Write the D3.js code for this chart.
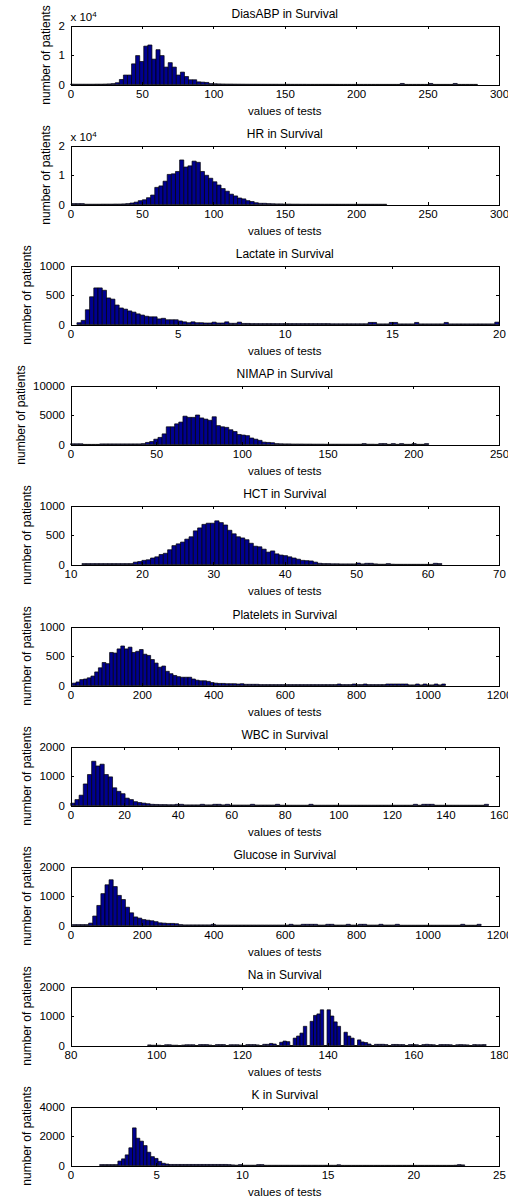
<!DOCTYPE html>
<html>
<head>
<meta charset="utf-8">
<script src="https://cdn.jsdelivr.net/npm/d3@7"></script>
<style>
  body { margin: 0; background: #fff; }
  svg { display: block; font-family: "Liberation Sans", Arial, Helvetica, sans-serif; }
  .axis path, .axis line { stroke: #000; shape-rendering: crispEdges; }
  .axis text { font-size: 11.5px; fill: #000; }
</style>
</head>
<body>
<script>
// one histogram per lab test, "in Survival" group
var panelNames = ["DiasABP", "HR", "Lactate", "NIMAP", "HCT", "Platelets", "WBC", "Glucose", "Na", "K"];
var binStarts = [0, 1, 0.3, 0, 11.6, 5, 0.1, 5, 98, 1.7];
var binWidths = [2.85, 2.9, 0.197, 2.43, 0.6, 10.45, 1.56, 11.45, 0.79, 0.213];
var xDomains = [[0, 300], [0, 300], [0, 20], [0, 250], [10, 70], [0, 1200], [0, 160], [0, 1200], [80, 180], [0, 25]];
var xSteps = [50, 50, 5, 50, 10, 200, 20, 200, 20, 5];
var yMaxes = [20000, 20000, 1000, 10000, 1000, 1000, 2000, 2000, 2000, 4000];
var yExponents = [4, 4, 0, 0, 0, 0, 0, 0, 0, 0];

var diasabpCounts = [
  120, 100, 100, 100, 100, 100, 120, 120, 150, 200,
  300, 600, 1700, 3200, 3200, 7000, 9800, 7800, 13000, 13400,
  8600, 11800, 9800, 5900, 7400, 5900, 3200, 4200, 2700, 1600,
  1600, 900, 800, 700, 300, 250, 200, 180, 150, 150,
  130, 120, 110, 100, 100, 100, 90, 90, 80, 80,
  80, 70, 70, 70, 60, 60, 60, 60, 50, 50,
  50, 50, 50, 50, 50, 40, 40, 40, 40, 40,
  40, 40, 40, 40, 40, 40, 40, 40, 40, 40,
  40, 350, 40, 40, 40, 40, 40, 40, 350, 40,
  40, 40, 40, 40, 350, 40, 40, 40, 40, 40
];
var hrCounts = [
  300, 300, 300, 100, 100, 100, 100, 120, 120, 120,
  150, 150, 200, 300, 500, 800, 1300, 1600, 2300, 3200,
  5800, 6300, 7900, 10200, 10400, 11200, 15100, 12700, 13100, 14700,
  14300, 11200, 9900, 8900, 7700, 6600, 5400, 4500, 3500, 2900,
  2200, 1900, 1300, 1000, 600, 400, 400, 300, 250, 200,
  200, 150, 150, 120, 120, 100, 100, 100, 100, 100,
  90, 90, 90, 80, 80, 80, 80, 80, 80, 80,
  80, 80, 80, 80, 80, 80
];
var lactateCounts = [
  30, 70, 250, 470, 620, 620, 580, 450, 430, 330,
  280, 260, 230, 210, 180, 160, 140, 130, 130, 95,
  105, 80, 80, 80, 60, 45, 30, 45, 30, 30,
  25, 25, 40, 25, 25, 45, 20, 20, 40, 18,
  18, 15, 15, 15, 15, 15, 15, 15, 15, 15,
  15, 15, 15, 15, 15, 15, 15, 15, 15, 15,
  12, 12, 12, 12, 12, 12, 12, 12, 12, 35,
  35, 10, 10, 10, 35, 35, 10, 10, 10, 10,
  35, 10, 10, 10, 10, 10, 10, 35, 10, 10,
  10, 10, 10, 10, 10, 10, 10, 10, 10, 40
];
var nimapCounts = [
  120, 120, 120, 20, 20, 20, 20, 100, 100, 100,
  100, 100, 100, 100, 100, 100, 100, 150, 350, 500,
  900, 1200, 1800, 3000, 3000, 3500, 3800, 4800, 4600, 4600,
  5000, 4500, 4300, 4100, 4700, 3200, 3000, 2900, 2500, 2200,
  1700, 1600, 1500, 1100, 900, 700, 400, 350, 300, 150,
  120, 100, 100, 80, 80, 80, 70, 70, 60, 60,
  60, 50, 50, 50, 50, 50, 50, 50, 50, 50,
  150, 50, 50, 30, 150, 150, 30, 150, 30, 150,
  30, 30, 150, 30, 30, 150
];
var hctCounts = [
  15, 15, 15, 15, 15, 15, 15, 15, 15, 15,
  15, 15, 40, 50, 70, 80, 110, 130, 170, 190,
  250, 320, 350, 380, 430, 470, 570, 620, 680, 700,
  700, 740, 710, 670, 580, 520, 470, 450, 420, 360,
  310, 300, 260, 210, 230, 180, 160, 150, 130, 110,
  90, 70, 65, 60, 40, 20, 15, 15, 12, 12,
  10, 10, 10, 10, 25, 10, 20, 20, 10, 5,
  5, 15, 5, 3, 3, 3, 3, 3, 3, 3,
  3, 3, 20, 15
];
var plateletsCounts = [
  40, 60, 100, 110, 130, 160, 230, 300, 390, 370,
  560, 550, 620, 670, 620, 650, 560, 580, 610, 530,
  510, 440, 380, 310, 330, 240, 200, 170, 150, 140,
  140, 140, 110, 90, 80, 80, 70, 50, 40, 35,
  35, 30, 30, 30, 25, 30, 20, 20, 20, 20,
  15, 15, 15, 15, 15, 15, 15, 15, 15, 15,
  15, 15, 15, 15, 15, 15, 15, 15, 15, 15,
  15, 25, 15, 15, 15, 25, 15, 15, 25, 15,
  15, 15, 15, 15, 25, 25, 25, 25, 25, 25,
  10, 10, 25, 10, 25, 10, 10, 25, 10, 25
];
var wbcCounts = [
  80, 200, 350, 730, 1050, 1500, 1340, 1400, 1050, 970,
  600, 480, 400, 250, 200, 130, 100, 80, 60, 40,
  35, 30, 30, 25, 25, 40, 40, 20, 20, 20,
  20, 40, 20, 20, 40, 40, 20, 40, 15, 15,
  15, 15, 15, 40, 15, 15, 15, 15, 15, 40,
  10, 10, 10, 10, 10, 10, 10, 40, 10, 10,
  10, 10, 10, 10, 10, 10, 10, 10, 10, 10,
  10, 10, 10, 10, 10, 10, 10, 10, 10, 10,
  10, 10, 40, 10, 40, 40, 40, 10, 10, 10,
  10, 10, 10, 10, 10, 10, 10, 10, 10, 40
];
var glucoseCounts = [
  30, 30, 30, 30, 80, 320, 680, 1080, 1380, 1550,
  1320, 1020, 880, 620, 430, 290, 250, 200, 180, 160,
  130, 90, 80, 70, 70, 60, 30, 20, 20, 20,
  20, 20, 20, 20, 40, 15, 15, 15, 15, 15,
  15, 15, 15, 15, 15, 15, 15, 15, 15, 15,
  15, 15, 15, 40, 15, 15, 40, 40, 40, 40,
  15, 15, 40, 40, 15, 15, 15, 40, 15, 15,
  40, 40, 15, 15, 15, 40, 15, 15, 15, 40,
  10, 10, 10, 10, 10, 10, 10, 10, 10, 10,
  10, 10, 10, 10, 10, 40, 10, 10, 10, 40
];
var naCounts = [
  20, 10, 10, 10, 0, 25, 25, 10, 10, 0,
  15, 25, 25, 25, 0, 30, 30, 30, 15, 0,
  30, 30, 30, 0, 25, 25, 25, 15, 0, 30,
  30, 30, 20, 0, 40, 40, 70, 50, 0, 110,
  150, 130, 0, 250, 320, 420, 650, 0, 820, 1020,
  1070, 1210, 0, 1210, 1000, 800, 650, 0, 450, 320,
  250, 0, 190, 120, 100, 50, 0, 40, 40, 40,
  30, 0, 35, 35, 30, 30, 0, 30, 30, 25,
  0, 30, 40, 30, 25, 0, 30, 30, 30, 25,
  0, 25, 30, 25, 20, 0, 30, 25, 25, 30
];
var kCounts = [
  60, 60, 60, 60, 60, 300, 450, 720, 1200, 2550,
  1850, 1650, 1350, 900, 600, 480, 280, 150, 100, 70,
  70, 70, 70, 70, 70, 70, 70, 70, 70, 70,
  70, 70, 70, 70, 70, 60, 40, 20, 60, 20,
  20, 20, 20, 60, 60, 15, 15, 15, 15, 15,
  15, 15, 15, 15, 15, 15, 15, 15, 15, 15,
  15, 15, 15, 15, 15, 50, 10, 10, 10, 10,
  10, 10, 10, 10, 10, 10, 10, 10, 10, 10,
  10, 10, 10, 10, 10, 10, 10, 10, 10, 10,
  10, 10, 10, 10, 10, 10, 10, 20, 60, 40
];
var panelCounts = [diasabpCounts, hrCounts, lactateCounts, nimapCounts, hctCounts,
  plateletsCounts, wbcCounts, glucoseCounts, naCounts, kCounts];

var width = 508,
    height = 1198;

var left = 70.5, right = 499;
var midX = (left + right) / 2;

var svg = d3.select("body").append("svg")
    .attr("width", width)
    .attr("height", height);

panelNames.forEach(function(name, i) {
    var top = Math.round(25 + i * 120.1) + 0.5,
        bottom = top + 59;

    var g = svg.append("g").attr("class", "panel");

    var x = d3.scaleLinear().domain(xDomains[i]).range([left, right]);
    var y = d3.scaleLinear().domain([0, yMaxes[i]]).range([bottom, top]);

    var start = binStarts[i], w = binWidths[i];
    var bins = panelCounts[i].map(function(c, k) {
        return {x0: start + k * w, x1: start + (k + 1) * w, count: c};
    });

    // paths instead of rects so that empty bins still leave their edge on the base line
    g.append("g").selectAll("path")
        .data(bins)
        .enter()
        .append("path")
        .attr("d", function(d) {
            return "M" + x(d.x0) + "," + y(0) + "V" + y(d.count) + "H" + x(d.x1) + "V" + y(0) + "Z";
        })
        .attr("fill", "#00008f")
        .attr("stroke", "#000")
        .attr("stroke-width", 0.7);

    var xt = d3.range(xDomains[i][0], xDomains[i][1] + xSteps[i] / 2, xSteps[i]);
    var yt = [0, yMaxes[i] / 2, yMaxes[i]];
    var scaleDiv = Math.pow(10, yExponents[i]);

    g.append("g").attr("class", "axis")
        .attr("transform", "translate(0," + bottom + ")")
        .call(d3.axisBottom(x).tickValues(xt).tickSizeInner(-3).tickSizeOuter(0).tickPadding(5)
            .tickFormat(d3.format("d")));
    g.append("g").attr("class", "axis")
        .attr("transform", "translate(0," + top + ")")
        .call(d3.axisTop(x).tickValues(xt).tickSizeInner(-3).tickSizeOuter(0).tickFormat(""));
    var yAxis = g.append("g").attr("class", "axis")
        .attr("transform", "translate(" + left + ",0)")
        .call(d3.axisLeft(y).tickValues(yt).tickSizeInner(-3).tickSizeOuter(0).tickPadding(5.5)
            .tickFormat(function(d) { return d3.format("d")(d / scaleDiv); }));
    g.append("g").attr("class", "axis")
        .attr("transform", "translate(" + right + ",0)")
        .call(d3.axisRight(y).tickValues(yt).tickSizeInner(-3).tickSizeOuter(0).tickFormat(""));

    g.selectAll(".axis .domain").attr("stroke-width", 1);

    if (yExponents[i] > 0) {
        var ex = g.append("text")
            .attr("x", left)
            .attr("y", top - 4.5)
            .style("font-size", "11.5px")
            .text("x 10");
        ex.append("tspan")
            .attr("dy", -4.5)
            .style("font-size", "8px")
            .text(yExponents[i]);
    }

    g.append("text")
        .attr("x", midX)
        .attr("y", top - 8)
        .attr("text-anchor", "middle")
        .style("font-size", "12px")
        .text(name + " in Survival");

    g.append("text")
        .attr("x", midX)
        .attr("y", bottom + 30)
        .attr("text-anchor", "middle")
        .style("font-size", "11.5px")
        .text("values of tests");

    // ylabel sits just left of the widest tick label, like matlab does
    var maxLen = 0;
    yAxis.selectAll("text").each(function() {
        maxLen = Math.max(maxLen, this.getComputedTextLength());
    });
    var lx = left - 5.5 - maxLen - 8.5;
    g.append("text")
        .attr("transform", "translate(" + lx + "," + (top + bottom) / 2 + ") rotate(-90)")
        .attr("text-anchor", "middle")
        .style("font-size", "12px")
        .text("number of patients");
});
</script>
</body>
</html>
